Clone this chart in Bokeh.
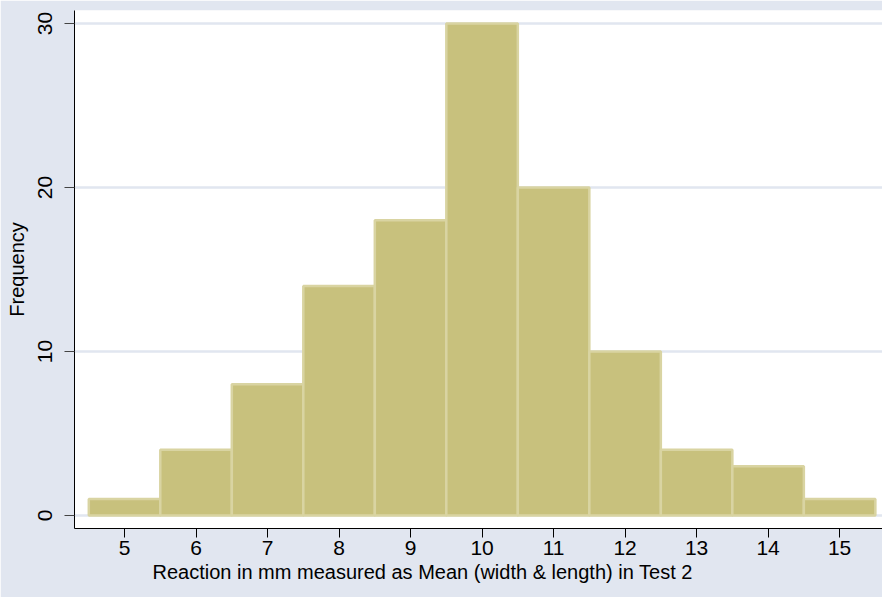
from bokeh.plotting import figure
from bokeh.models import Range1d, FixedTicker, Title
from bokeh.embed import file_html
from bokeh.resources import INLINE

# Data
bin_centers = [5, 6, 7, 8, 9, 10, 11, 12, 13, 14, 15]
frequencies = [1, 4, 8, 14, 18, 30, 20, 10, 4, 3, 1]
bin_width = 1.0
y_ticks = [0, 10, 20, 30]
x_ticks = [5, 6, 7, 8, 9, 10, 11, 12, 13, 14, 15]

BG = "#E1E6F0"
FONT = "Liberation Sans"

p = figure(width=882, height=597, output_backend="svg", toolbar_location=None,
           x_range=Range1d(4.30, 15.60), y_range=Range1d(-0.8, 30.8),
           min_border_left=74, min_border_right=0, min_border_top=10, min_border_bottom=69)
p.background_fill_color = "white"
p.border_fill_color = BG
p.outline_line_color = None

lefts = [c - bin_width / 2 for c in bin_centers]
rights = [c + bin_width / 2 for c in bin_centers]
p.quad(left=lefts, right=rights, top=frequencies, bottom=0,
       fill_color="#C8C17D", line_color="#D9D4A2", line_width=2.5)

p.xgrid.grid_line_color = None
p.ygrid.grid_line_color = BG
p.ygrid.grid_line_width = 2.5
p.ygrid.ticker = FixedTicker(ticks=y_ticks)

# y axis
p.yaxis.ticker = FixedTicker(ticks=y_ticks)
p.yaxis.major_label_orientation = "vertical"
p.yaxis.axis_label = "Frequency"
p.yaxis.axis_label_text_font = FONT
p.yaxis.axis_label_text_font_style = "normal"
p.yaxis.axis_label_text_font_size = "20px"
p.yaxis.axis_label_text_color = "black"
p.yaxis.axis_label_standoff = 8
p.yaxis.major_label_text_font = FONT
p.yaxis.major_label_text_font_size = "21px"
p.yaxis.major_label_text_color = "black"
p.yaxis.major_label_standoff = 12
p.yaxis.major_tick_out = 10
p.yaxis.major_tick_in = 0
p.yaxis.minor_tick_line_color = None
p.yaxis.major_tick_line_color = "#444444"
p.yaxis.axis_line_color = "black"

# x axis
p.xaxis.ticker = FixedTicker(ticks=x_ticks)
p.xaxis.major_label_text_font = FONT
p.xaxis.major_label_text_font_size = "21px"
p.xaxis.major_label_text_color = "black"
p.xaxis.major_label_standoff = 3
p.xaxis.major_tick_out = 9
p.xaxis.major_tick_in = 0
p.xaxis.minor_tick_line_color = None
p.xaxis.major_tick_line_color = "black"
p.xaxis.axis_line_color = "black"

xt = Title(text="Reaction in mm measured as Mean (width & length) in Test 2",
           align="left", offset=78, text_font=FONT, text_font_size="20px",
           text_font_style="normal", text_color="black", standoff=3)
p.add_layout(xt, "below")

open("out.html", "w").write(file_html(p, INLINE))
